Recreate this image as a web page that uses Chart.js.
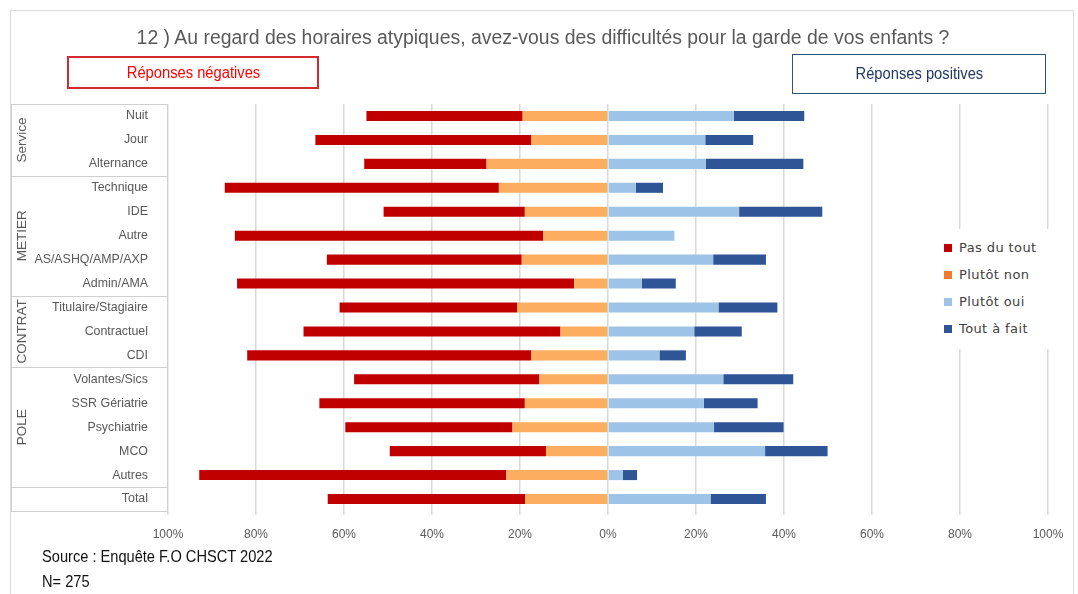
<!DOCTYPE html>
<html>
<head>
<meta charset="utf-8">
<script src="https://cdn.jsdelivr.net/npm/chart.js@4"></script>
<style>
  body { margin: 0; background: #fff; }
  #wrap { position: relative; width: 1078px; height: 594px; overflow: hidden; font-family: "Liberation Sans", Arial, sans-serif; }
  #frame { position: absolute; left: 10px; top: 10px; width: 1062px; height: 620px; border: 1px solid #d9d9d9; }
  canvas { position: absolute; left: 0; top: 0; }
  #title { position: absolute; left: 0; width: 1086px; top: 26px; text-align: center; font-size: 20px; color: #595959; transform: scaleX(0.97); }
  .box { position: absolute; text-align: center; font-size: 16px; box-sizing: border-box; }
  .box span { display: inline-block; transform: scaleX(0.92); }
  #neg { left: 67px; top: 56px; width: 252px; height: 33px; line-height: 30px; border: 2px solid #d42a2f; color: #ff0000; }
  #pos { left: 792px; top: 54px; width: 254px; height: 40px; line-height: 38px; border: 1.5px solid #2f5379; color: #1f3864; }
  #source { position: absolute; left: 42px; top: 544px; font-size: 17px; color: #111; line-height: 25px; transform: scaleX(0.86); transform-origin: left top; }
  #legend { position: absolute; left: 936px; top: 229px; width: 122px; height: 120px; background: #fff; font-family: "DejaVu Sans", Verdana, sans-serif; font-size: 13px; letter-spacing: 0.4px; color: #404040; }
  #legend div { position: absolute; left: 8px; height: 16px; line-height: 16px; }
  #legend span { display: inline-block; width: 8px; height: 8px; margin-right: 7px; vertical-align: 0px; }
</style>
</head>
<body>
<div id="wrap">
  <div id="frame"></div>
  <canvas id="chart" width="1078" height="594"></canvas>
  <div id="title">12 ) Au regard des horaires atypiques, avez-vous des difficultés pour la garde de vos enfants ?</div>
  <div class="box" id="neg"><span>Réponses négatives</span></div>
  <div class="box" id="pos"><span>Réponses positives</span></div>
  <div id="legend"></div>
  <div id="source">Source : Enquête F.O CHSCT 2022<br>N= 275</div>
</div>
<script>
// categories (top to bottom) and their groups
const categories = ["Nuit", "Jour", "Alternance", "Technique", "IDE", "Autre", "AS/ASHQ/AMP/AXP", "Admin/AMA",
  "Titulaire/Stagiaire", "Contractuel", "CDI", "Volantes/Sics", "SSR Gériatrie", "Psychiatrie", "MCO", "Autres", "Total"];
const groupNames = ["Service", "METIER", "CONTRAT", "POLE", ""];
const groupSizes = [3, 5, 3, 5, 1];

// percentages
const pasDuTout = [35.5, 49.1, 27.8, 62.3, 32.1, 70.1, 44.3, 76.6, 40.4, 58.4, 64.6, 42.1, 46.7, 38.0, 35.5, 69.8, 44.9];
const plutotNon = [19.4, 17.4, 27.6, 24.8, 18.9, 14.7, 19.6, 7.7, 20.6, 10.8, 17.4, 15.6, 18.9, 21.7, 14.1, 23.1, 18.8];
const plutotOui = [28.6, 22.1, 22.2, 6.3, 29.8, 15.1, 23.9, 7.7, 25.1, 19.6, 11.7, 26.2, 21.8, 24.1, 35.7, 3.4, 23.3];
const toutAFait = [16.0, 10.9, 22.2, 6.2, 18.9, 0, 12.0, 7.7, 13.4, 10.8, 6.0, 15.9, 12.2, 15.8, 14.2, 3.2, 12.6];

const xTicks = [-100, -80, -60, -40, -20, 0, 20, 40, 60, 80, 100];

const legendItems = [
  { label: "Pas du tout", color: "#c00000" },
  { label: "Plutôt non", color: "#ed7d31" },
  { label: "Plutôt oui", color: "#9dc3e6" },
  { label: "Tout à fait", color: "#2f5597" }
];

const labelFont = '"Liberation Sans", Arial, sans-serif';

// html legend
const legendEl = document.getElementById("legend");
legendItems.forEach((item, i) => {
  const d = document.createElement("div");
  d.style.top = (11 + i * 27) + "px";
  d.innerHTML = '<span style="background:' + item.color + '"></span>' + item.label;
  legendEl.appendChild(d);
});

const neg = arr => arr.map(v => -v);

// left table with the group names
const groupTable = {
  id: "groupTable",
  afterDraw(chart) {
    const ctx = chart.ctx;
    const y = chart.scales.y;
    const area = chart.chartArea;
    const x0 = 11, x1 = 167;
    ctx.save();
    ctx.strokeStyle = "#d0d0d0";
    ctx.lineWidth = 1;
    ctx.beginPath();
    ctx.moveTo(x0 + 0.5, area.top); ctx.lineTo(x0 + 0.5, area.bottom);
    ctx.moveTo(x1 + 0.5, area.top); ctx.lineTo(x1 + 0.5, area.bottom);
    ctx.moveTo(x0, area.top + 0.5); ctx.lineTo(x1, area.top + 0.5);
    ctx.stroke();
    let start = 0;
    groupNames.forEach((name, g) => {
      const end = start + groupSizes[g] - 1;
      const top = start === 0 ? area.top : (y.getPixelForValue(start - 1) + y.getPixelForValue(start)) / 2;
      const bottom = end === categories.length - 1 ? area.bottom : (y.getPixelForValue(end) + y.getPixelForValue(end + 1)) / 2;
      ctx.beginPath();
      ctx.moveTo(x0, Math.round(bottom) + 0.5);
      ctx.lineTo(x1, Math.round(bottom) + 0.5);
      ctx.stroke();
      if (name) {
        ctx.save();
        ctx.translate(22, (top + bottom) / 2);
        ctx.rotate(-Math.PI / 2);
        ctx.fillStyle = "#595959";
        ctx.font = "13.5px " + labelFont;
        ctx.textAlign = "center";
        ctx.textBaseline = "middle";
        ctx.fillText(name, 0, 0);
        ctx.restore();
      }
      start = end + 1;
    });
    ctx.restore();
  }
};

new Chart(document.getElementById("chart"), {
  type: "bar",
  data: {
    labels: categories,
    datasets: [
      { label: "Plutôt non", data: neg(plutotNon), backgroundColor: "#fdad5f" },
      { label: "Pas du tout", data: neg(pasDuTout), backgroundColor: "#c00000" },
      { label: "Plutôt oui", data: plutotOui, backgroundColor: "#9dc3e6" },
      { label: "Tout à fait", data: toutAFait, backgroundColor: "#2f5597" }
    ]
  },
  options: {
    indexAxis: "y",
    responsive: false,
    animation: false,
    datasets: { bar: { categoryPercentage: 1, barPercentage: 0.42 } },
    layout: { padding: { left: 0, top: 104, right: 30, bottom: 0 } },
    plugins: { legend: { display: false }, tooltip: { enabled: false } },
    scales: {
      x: {
        stacked: true,
        min: -100,
        max: 100,
        afterBuildTicks: s => { s.ticks = xTicks.map(v => ({ value: v })); },
        afterFit: s => { s.height = 83; },
        grid: { color: "#d9d9d9", lineWidth: 1.5, tickLength: 4 },
        border: { display: false },
        ticks: {
          padding: 12,
          color: "#595959",
          font: { family: labelFont, size: 12 },
          callback: v => Math.abs(v) + "%"
        }
      },
      y: {
        stacked: true,
        afterFit: s => { s.width = 168; },
        grid: { display: false },
        border: { display: false },
        ticks: {
          padding: 12,
          color: "#595959",
          font: { family: labelFont, size: 12.4 }
        }
      }
    }
  },
  plugins: [groupTable]
});
</script>
</body>
</html>
